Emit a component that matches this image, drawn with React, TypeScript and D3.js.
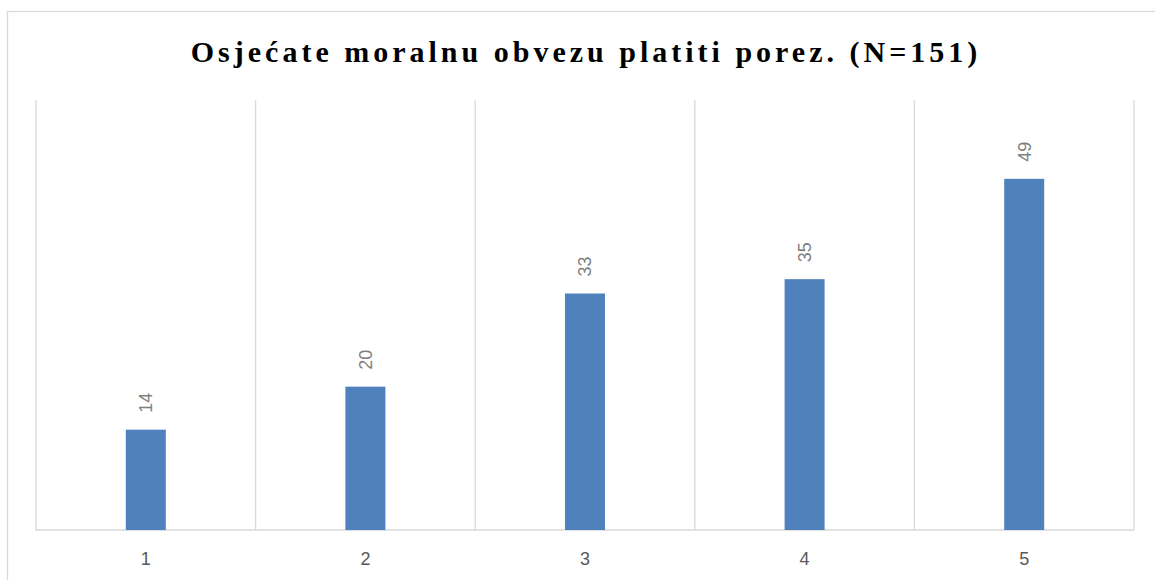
import React from 'react';
import * as d3 from 'd3';

// values
const categories = ['1', '2', '3', '4', '5'];
const counts = [14, 20, 33, 35, 49];
const title = 'Osjećate moralnu obvezu platiti porez. (N=151)';

const W = 1155;
const H = 580;
const margin = { top: 100, right: 21, bottom: 50, left: 36 };

const App = () => {
  const x = d3.scaleBand<string>()
    .domain(categories)
    .range([margin.left, W - margin.right])
    .paddingInner(0)
    .paddingOuter(0);

  const y = d3.scaleLinear()
    .domain([0, 60])
    .range([H - margin.bottom, margin.top]);

  const barW = 40;
  const edges = categories.map(c => x(c)!).concat([W - margin.right]);

  return (
    <svg
      width={W}
      height={H}
      style={{ position: 'absolute', left: 0, top: 0, background: '#fff' }}
    >
      <rect x={7.5} y={11.5} width={1160} height={600} fill="#fff" stroke="#D9D9D9" strokeWidth={1.3} />

      <text
        x={586}
        y={62}
        textAnchor="middle"
        fontFamily="'Liberation Serif', 'Times New Roman', serif"
        fontWeight="bold"
        fontSize={30}
        letterSpacing={4}
        fill="#000"
      >
        {title}
      </text>

      {edges.map((ex, i) => (
        <line key={i} x1={ex} x2={ex} y1={margin.top} y2={H - margin.bottom} stroke="#D9D9D9" strokeWidth={1.3} />
      ))}

      <line x1={margin.left} x2={W - margin.right} y1={y(0)} y2={y(0)} stroke="#D9D9D9" strokeWidth={1.5} />

      {categories.map((c, i) => {
        const cx = x(c)! + x.bandwidth() / 2;
        return (
          <g key={c}>
            <rect
              x={cx - barW / 2}
              y={y(counts[i])}
              width={barW}
              height={y(0) - y(counts[i])}
              fill="#4F81BD"
            />
            <text
              transform={`translate(${cx},${y(counts[i]) - 17}) rotate(-90)`}
              dy="0.35em"
              textAnchor="start"
              fontFamily="'Liberation Sans', Arial, sans-serif"
              fontSize={18}
              fill="#7F7F7F"
            >
              {counts[i]}
            </text>
            <text
              x={cx}
              y={565}
              textAnchor="middle"
              fontFamily="'Liberation Sans', Arial, sans-serif"
              fontSize={18}
              fill="#595959"
            >
              {c}
            </text>
          </g>
        );
      })}
    </svg>
  );
};

export default App;
